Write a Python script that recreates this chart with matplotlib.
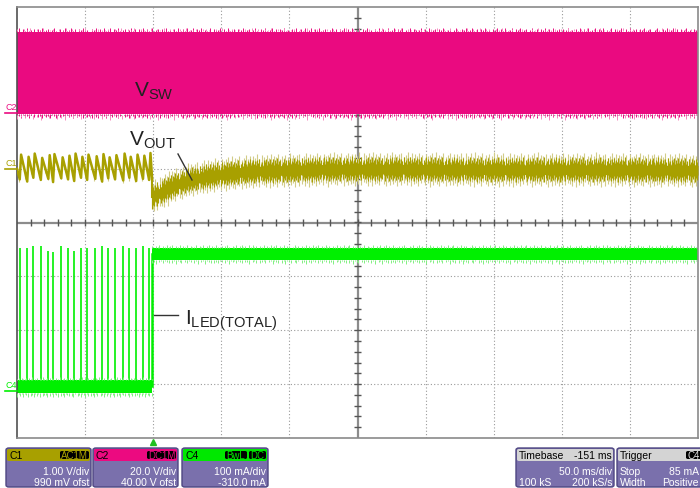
import numpy as np
import matplotlib.pyplot as plt
from matplotlib.patches import FancyBboxPatch
from matplotlib.lines import Line2D

plt.rcParams['font.family'] = ['Liberation Sans', 'DejaVu Sans']
plt.rcParams['mathtext.fontset'] = 'custom'
plt.rcParams['mathtext.rm'] = 'Liberation Sans'
plt.rcParams['mathtext.it'] = 'Liberation Sans'

# screen units: time in divisions (50 ms/div), traces in divisions
t_step = 1.985

# C2  V_SW switching band (edges)
vsw_hi = 3.53
vsw_lo = 2.01

# C1  V_OUT before the step: sawtooth, one tooth per LED pulse
pulse_t = [0.04, 0.15, 0.24, 0.35, 0.46, 0.53, 0.65, 0.75, 0.84, 0.94,
           1.03, 1.15, 1.25, 1.34, 1.44, 1.56, 1.65, 1.75, 1.85, 1.94]
vout_peak = [1.26, 1.22, 1.28, 1.20, 1.25, 1.27, 1.21, 1.24, 1.28, 1.22,
             1.26, 1.23, 1.27, 1.21, 1.25, 1.28, 1.22, 1.26, 1.24, 1.29]
vout_trough = [0.80, 0.76, 0.83, 0.79, 0.81, 0.75, 0.82, 0.80, 0.77, 0.83,
               0.79, 0.81, 0.76, 0.82, 0.80, 0.78, 0.83, 0.77, 0.81, 0.79]

# C1  V_OUT after the step: centre of the ripple band
vout_t = [1.99, 2.10, 2.25, 2.50, 2.80, 3.10, 3.45, 4.00, 4.60, 5.60, 7.00, 8.50, 10.0]
vout_c = [0.47, 0.55, 0.66, 0.78, 0.86, 0.91, 0.95, 0.97, 0.99, 0.99, 0.98, 0.98, 0.97]

# C4  I_LED(TOTAL)
iled_top = [-0.47, -0.47, -0.43, -0.43, -0.52, -0.54, -0.43, -0.47, -0.52, -0.47,
            -0.47, -0.47, -0.43, -0.48, -0.47, -0.43, -0.47, -0.48, -0.43, -0.48]
iled_off = -3.04
iled_on = -0.58

# ripple pattern read along the noisy trace edges (fraction of max spike)
ripple = [0.42, 0.87, 0.15, 0.63, 0.31, 0.95, 0.22, 0.54, 0.78, 0.09, 0.66, 0.38, 0.91, 0.27,
          0.49, 0.72, 0.13, 0.58, 0.84, 0.35, 0.06, 0.69, 0.44, 0.97, 0.19, 0.53, 0.81, 0.29,
          0.62, 0.11, 0.76, 0.40, 0.88, 0.24, 0.57, 0.03, 0.71, 0.46, 0.93, 0.17, 0.60, 0.33,
          0.85, 0.26, 0.51, 0.79, 0.08, 0.67, 0.39, 0.92, 0.21, 0.55, 0.74, 0.14, 0.47, 0.83,
          0.30, 0.64, 0.05, 0.73, 0.41, 0.89, 0.18, 0.59, 0.36, 0.96, 0.23, 0.50, 0.77, 0.12,
          0.68, 0.43, 0.86, 0.28, 0.56, 0.02, 0.75, 0.37, 0.90, 0.20, 0.61, 0.34, 0.82, 0.25,
          0.52, 0.80, 0.10, 0.65, 0.45, 0.94, 0.16, 0.58, 0.32, 0.87, 0.07, 0.70, 0.48]

MAG = '#EA0A80'
MAG_L = '#F58CC0'
OLV = '#A8A000'
OLV_L = '#D2CC88'
GRN = '#00F000'
GRN_L = '#80F080'

W, H = 700, 489
fig = plt.figure(figsize=(W / 100, H / 100), dpi=100)
ax = fig.add_axes([17 / W, 1 - 439 / H, 681 / W, 431 / H])
ax.set_xlim(0, 10)
ax.set_ylim(-4, 4)
ax.set_xticks([])
ax.set_yticks([])
for s in ax.spines.values():
    s.set_color('#8a8a8a')
    s.set_linewidth(1.2)
ax.spines['left'].set_color('#505050')


def fpx(x, y):
    return x / W, 1 - y / H


def dpx(x, y):
    return (x - 17) / 68.1, 4 - (y - 8) / 53.875


def spikes(t0, t1, n, base, amp, sign, roll, color, lw=0.7, z=3):
    xs = np.linspace(t0, t1, n)
    r = np.resize(np.roll(ripple, roll), n)
    ax.vlines(xs, base, base + sign * amp * r, color=color, lw=lw, zorder=z)


# grid
for gx in range(1, 10):
    if gx != 5:
        ax.axvline(gx, color='#9a9a9a', lw=0.8, ls=(0, (1, 2)), zorder=1)
for gy in range(-3, 4):
    if gy != 0:
        ax.axhline(gy, color='#9a9a9a', lw=0.8, ls=(0, (1, 2)), zorder=1)
ax.axhline(0, color='#8c8c8c', lw=1.6, zorder=1)
ax.axvline(5, color='#8c8c8c', lw=1.6, zorder=1)
minor = np.arange(0.2, 10, 0.2)
ax.vlines(minor, -0.06, 0.06, color='#555555', lw=1.0, zorder=1)
minor_y = np.arange(-3.8, 4, 0.2)
ax.hlines(minor_y, 4.955, 5.045, color='#555555', lw=1.0, zorder=1)

# C2: V_SW
ax.fill_between([0, 10], vsw_lo, vsw_hi, color=MAG, lw=0, zorder=2)
spikes(0, 10, 330, vsw_hi, 0.09, 1, 0, MAG)
spikes(0, 10, 210, vsw_hi + 0.02, 0.06, 1, 40, MAG_L)
spikes(0, 10, 330, vsw_lo, 0.08, -1, 31, MAG)
spikes(0, 10, 170, vsw_lo - 0.02, 0.09, -1, 71, MAG_L)

# C1: V_OUT
saw_x, saw_y = [0.0], [vout_trough[0] + 0.2]
for i in range(len(pulse_t)):
    saw_x += [pulse_t[i], pulse_t[i] + 0.02]
    saw_y += [vout_trough[i], vout_peak[i]]
saw_x.append(t_step)
saw_y.append(vout_trough[-1])
ax.plot(saw_x, saw_y, color=OLV, lw=1.8, zorder=3)
nsaw = 90
xs0 = np.linspace(0.01, t_step - 0.01, nsaw)
ys0 = np.interp(xs0, saw_x, saw_y)
r0 = np.resize(np.roll(ripple, 13), nsaw)
ax.vlines(xs0, ys0, ys0 - 0.12 * r0, color=OLV_L, lw=0.8, zorder=2)

tt = np.linspace(t_step, 10, 400)
cc = np.interp(tt, vout_t, vout_c)
ax.fill_between(tt, cc - 0.09, cc + 0.09, color=OLV, lw=0, zorder=4)
nsp = 520
xs = np.linspace(t_step, 10, nsp)
cs = np.interp(xs, vout_t, vout_c)
r1 = np.resize(np.roll(ripple, 11), nsp)
r2 = np.resize(np.roll(ripple, 47), nsp)
r3 = np.resize(np.roll(ripple, 70), nsp)
ax.vlines(xs, cs, cs + 0.09 + 0.24 * r1, color=OLV_L, lw=0.8, zorder=3)
ax.vlines(xs, cs, cs - 0.09 - 0.24 * r2, color=OLV_L, lw=0.8, zorder=3)
ax.vlines(xs, cs, cs + 0.09 + 0.15 * r3, color=OLV, lw=0.8, zorder=4)
ax.vlines(xs, cs, cs - 0.09 - 0.14 * r1[::-1], color=OLV, lw=0.8, zorder=4)
ax.plot([t_step, t_step], [vout_trough[-1], vout_c[0]], color=OLV, lw=1.5, zorder=3)

# C4: I_LED(TOTAL)
ax.fill_between([0, t_step], iled_off - 0.12, iled_off + 0.11, color=GRN, lw=0, zorder=2)
spikes(0, t_step, 90, iled_off + 0.11, 0.06, 1, 5, GRN_L)
spikes(0, t_step, 90, iled_off - 0.12, 0.09, -1, 19, GRN_L)
ax.vlines(pulse_t, iled_off, iled_top, color=GRN, lw=1.2, zorder=2)
ax.plot([t_step, t_step], [iled_off, iled_on], color=GRN, lw=1.8, zorder=2)
ax.fill_between([t_step, 10], iled_on - 0.11, iled_on + 0.10, color=GRN, lw=0, zorder=2)
spikes(t_step, 10, 300, iled_on + 0.10, 0.07, 1, 23, GRN_L)
spikes(t_step, 10, 300, iled_on - 0.11, 0.08, -1, 61, GRN_L)

# channel ground markers
for lab, y, col in [('C2', 114, MAG), ('C1', 170, OLV), ('C4', 392, GRN)]:
    fig.text(*fpx(5, y - 4), lab, color=col, fontsize=6.5, va='baseline')
    fig.add_artist(Line2D([5 / W, 17 / W], [1 - y / H] * 2, color=col, lw=1.2))

# trigger marker
ax.plot([t_step + 0.01], [-4.08], marker='^', ms=5, color='#20C020', clip_on=False)

# annotations
ax.text(*dpx(134, 97), r'$\mathregular{V_{SW}}$', fontsize=15, color='#222222', zorder=6)
ax.text(*dpx(129, 146), r'$\mathregular{V_{OUT}}$', fontsize=15, color='#222222', zorder=6)
ax.text(*dpx(185, 325), r'$\mathregular{I_{LED(TOTAL)}}$', fontsize=15, color='#222222', zorder=6)
ax.plot(*zip(dpx(178, 155), dpx(192, 181)), color='#333333', lw=1.0, zorder=6)
ax.plot(*zip(dpx(154, 316), dpx(178, 316)), color='#333333', lw=1.0, zorder=6)

# status boxes along the bottom
BODY = '#7A70AC'
EDGE = '#4E4682'


def panel(x0, x1, head_col):
    fig.add_artist(FancyBboxPatch(fpx(x0, 488), (x1 - x0) / W, 39 / H,
                                  boxstyle='round,pad=0,rounding_size=0.004',
                                  transform=fig.transFigure, fc=BODY, ec=EDGE, lw=1.0))
    fig.add_artist(FancyBboxPatch(fpx(x0 + 1, 462), (x1 - x0 - 2) / W, 12 / H,
                                  boxstyle='round,pad=0,rounding_size=0.003',
                                  transform=fig.transFigure, fc=head_col, ec='none'))


def badge(x0, x1, text, col):
    fig.add_artist(FancyBboxPatch(fpx(x0, 460), (x1 - x0) / W, 8 / H,
                                  boxstyle='round,pad=0,rounding_size=0.003',
                                  transform=fig.transFigure, fc='black', ec='none'))
    fig.text(*fpx((x0 + x1) / 2, 459), text, color=col, fontsize=7, ha='center', va='baseline')


def txt(x, y, s, ha='right', col='white'):
    fig.text(*fpx(x, y), s, color=col, fontsize=7.5, ha=ha, va='baseline')


chans = [(6, 91, '#A8A000', 'C1', ['AC1M'], '1.00 V/div', '990 mV ofst'),
         (93, 178, '#EC0A80', 'C2', ['DC1M'], '20.0 V/div', '40.00 V ofst'),
         (182, 268, '#00E800', 'C4', ['BwL', 'DC'], '100 mA/div', '-310.0 mA')]
for x0, x1, col, name, badges, r1s, r2s in chans:
    panel(x0, x1, col)
    txt(x0 + 3, 459, name, ha='left', col='black')
    if len(badges) == 1:
        badge(x1 - 31, x1 - 2, badges[0], col)
    else:
        badge(x1 - 43, x1 - 21, badges[0], col)
        badge(x1 - 19, x1 - 2, badges[1], col)
    txt(x1 - 2, 475, r1s)
    txt(x1 - 2, 486, r2s)

panel(516, 614, '#D4D4D4')
txt(519, 459, 'Timebase', ha='left', col='black')
txt(612, 459, '-151 ms', col='black')
txt(612, 475, '50.0 ms/div')
txt(519, 486, '100 kS', ha='left')
txt(612, 486, '200 kS/s')

panel(617, 712, '#D4D4D4')
txt(620, 459, 'Trigger', ha='left', col='black')
badge(686, 702, 'C4', '#E0E0E0')
txt(620, 475, 'Stop', ha='left')
txt(699, 475, '85 mA')
txt(620, 486, 'Width', ha='left')
txt(699, 486, 'Positive')

fig.savefig('out.png', dpi=100)
